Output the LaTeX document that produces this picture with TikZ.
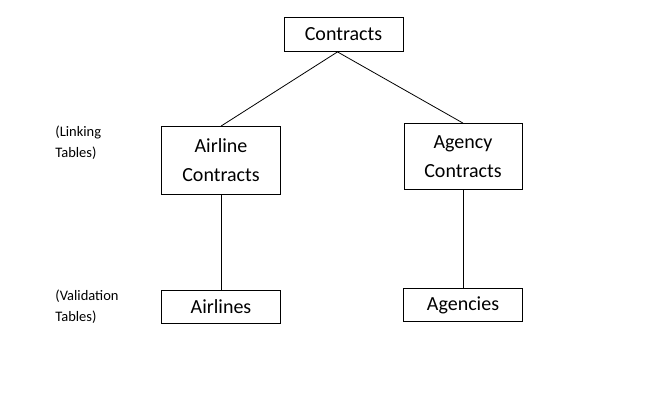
\documentclass[tikz,border=0pt]{standalone}
\usepackage{fontspec}
\setmainfont{Carlito}
\usetikzlibrary{positioning}

\begin{document}
\begin{tikzpicture}[x=1pt,y=-1pt,line width=0.8pt]
  \tikzstyle{entity}=[rectangle,draw=black,inner sep=0pt,align=center,font=\fontsize{20}{29}\selectfont]
  \tikzstyle{remark}=[inner sep=0pt,align=left,anchor=west,font=\fontsize{14.5}{21}\selectfont]

    \useasboundingbox (0,0) rectangle (654,408);

    \node [entity,minimum width=119pt,minimum height=34pt] (contracts) at (343.5,34.5) {Contracts};

    \node [entity,minimum width=119pt,minimum height=68pt] (airc) at (221,160.5) {Airline\\Contracts};
    \node [entity,minimum width=118pt,minimum height=66pt] (agc) at (463,156.5) {Agency\\Contracts};

    \node [entity,minimum width=119pt,minimum height=33pt] (airlines) at (221,307) {Airlines};
    \node [entity,minimum width=119pt,minimum height=33pt] (agencies) at (463,305) {Agencies};

    \node [remark] (linking) at (55,143) {(Linking\\Tables)};
    \node [remark] (validation) at (55,307) {(Validation\\Tables)};

    \coordinate (fork) at ([xshift=-6pt]contracts.south);
    \draw (fork) -- (airc.north);
    \draw (fork) -- (agc.north);
    \draw (airc) -- (airlines);
    \draw (agc) -- (agencies);
\end{tikzpicture}
\end{document}
